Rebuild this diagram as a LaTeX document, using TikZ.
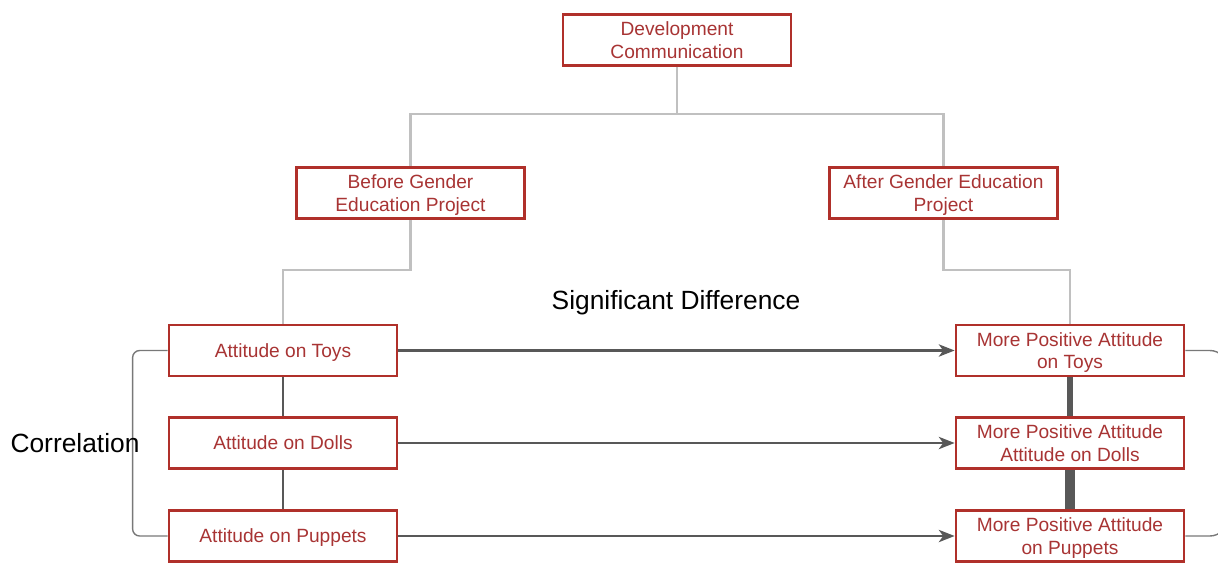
\documentclass[tikz,border=0pt]{standalone}
\usepackage{fontspec}
\setmainfont{Liberation Sans}
\usetikzlibrary{arrows.meta,positioning}
\definecolor{boxred}{RGB}{176,48,42}
\definecolor{textred}{RGB}{168,52,52}
\definecolor{treegray}{RGB}{192,192,192}
\definecolor{linkgray}{RGB}{88,88,88}
\definecolor{bracegray}{RGB}{120,120,120}

\begin{document}
\begin{tikzpicture}[x=0.02cm, y=-0.02cm,
        box/.style={rectangle, draw=boxred, line width=1.6pt,
                    minimum width=4.56cm, minimum height=1.02cm,
                    align=center, fill=white, text=textred, inner sep=0pt,
                    text depth=0pt,
                    font=\fontsize{10.9}{12.6}\selectfont},
        tree/.style={draw=treegray, line width=1.2pt},
        arrow/.style={-{Stealth[length=9pt,width=7pt,inset=2.5pt]},
                      line width=1.3pt, draw=linkgray},
        link/.style={draw=linkgray},
        brace/.style={draw=bracegray, line width=0.8pt, rounded corners=4pt},
        lbl/.style={font=\fontsize{15}{18}\selectfont, text=black}]

        \useasboundingbox (0,0) rectangle (1218,562);
        \clip (0,0) rectangle (1218,562);

        % top node
        \node[box] (dev) at (677, 40) {Development\\Communication};

        % before / after nodes
        \node[box] (before) at (410.5, 193) {Before Gender\\Education Project};
        \node[box] (after) at (943.5, 193) {After Gender Education\\Project};

        % attitudes before
        \node[box] (toys) at (283, 350.5) {Attitude on Toys};
        \node[box] (dolls) at (283, 443) {Attitude on Dolls};
        \node[box] (puppets) at (283, 536) {Attitude on Puppets};

        % attitudes after
        \node[box] (mtoys) at (1070, 350.5) {More Positive Attitude\\on Toys};
        \node[box] (mdolls) at (1070, 443) {More Positive Attitude\\Attitude on Dolls};
        \node[box] (mpuppets) at (1070, 536) {More Positive Attitude\\on Puppets};

        % tree lines
        \draw[tree] (dev.south) -- ++(0,47) -| (before.north);
        \draw[tree] (dev.south) -- ++(0,47) -| (after.north);
        \draw[tree] (before.south) -- ++(0,50) -| (toys.north);
        \draw[tree] (after.south) -- ++(0,50) -| (mtoys.north);

        % left column
        \draw[link, line width=0.8pt] (toys) -- (dolls);
        \draw[link, line width=0.8pt] (dolls) -- (puppets);

        % right column
        \draw[link, line width=3pt] (mtoys) -- (mdolls);
        \draw[link, line width=5.5pt] (mdolls) -- (mpuppets);

        % arrows before -> after
        \draw[arrow] (toys) -- (mtoys);
        \draw[arrow] (dolls) -- (mdolls);
        \draw[arrow] (puppets) -- (mpuppets);

        % brackets
        \draw[brace] (toys.west) -- ++(-35,0) |- (puppets.west);
        \draw[brace, rounded corners=10pt] (mtoys.east) -- ++(42,0) |- (mpuppets.east);

        % labels
        \node[lbl] (sig) at (676, 303) {Significant Difference};
        \node[lbl] (corr) at (75, 443) {Correlation};

    \end{tikzpicture}
\end{document}
